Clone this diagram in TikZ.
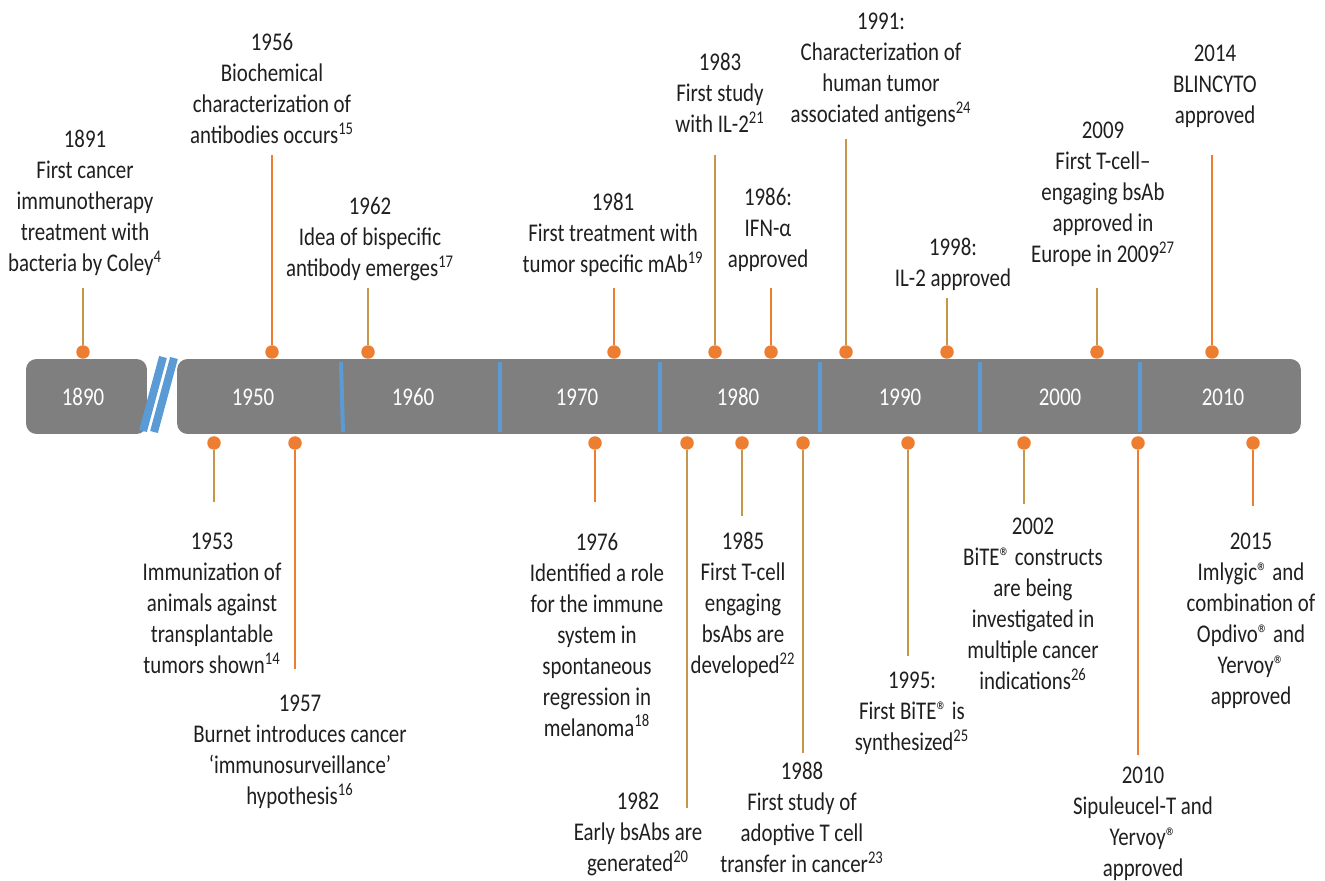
\documentclass[tikz,border=0pt]{standalone}
\usepackage{fontspec}
\setmainfont{Carlito}[FakeStretch=0.82]
\usepackage{xcolor}
\usepackage{tikz}

\definecolor{barGray}{HTML}{7F7F7F}
\definecolor{tickBlue}{HTML}{5B9BD5}
\definecolor{dotOrange}{HTML}{ED7D31}
\definecolor{stemTan}{HTML}{C8964B}
\definecolor{labelGray}{HTML}{1F1F1F}
\newcommand{\eventfont}{\fontsize{14.5}{17.6}\selectfont}

\begin{document}
\begin{tikzpicture}[x=0.02cm, y=-0.02cm,
    bar/.style={rectangle, fill=barGray, rounded corners=6pt, minimum height=1.5cm, inner sep=0pt},
    decade/.style={text=white, font=\eventfont},
    event/.style={align=center, anchor=north, inner sep=0pt, text=labelGray, font=\eventfont},
    dot/.style={circle, fill=dotOrange, inner sep=0pt, minimum size=0.27cm},
    stem/.style={line width=1.1pt, stemTan},
    hotstem/.style={line width=1.1pt, dotOrange},
    divider/.style={line width=0.08cm, tickBlue},
    breakmark/.style={line width=0.16cm, tickBlue}
]
    \useasboundingbox (0,0) rectangle (1325,881);

    % Timeline bar
    \node[bar, minimum width=2.42cm] (bar1890) at (86.5,396.5) {};
    \node[bar, minimum width=22.48cm] (bar) at (739,396.5) {};
    \draw[breakmark] (143,431) -- (163,357);
    \draw[breakmark] (154,432) -- (174,358);

    % Decade dividers
    \draw[divider] (341,362) -- (343,432);
    \draw[divider] (500,362) -- (500,432);
    \draw[divider] (660,362) -- (660,432);
    \draw[divider] (820,362) -- (820,432);
    \draw[divider] (980,362) -- (980,432);
    \draw[divider] (1140,362) -- (1140,432);

    % Decades
    \node[decade] (y1890) at (83,397) {1890};
    \node[decade] (y1950) at (253,397) {1950};
    \node[decade] (y1960) at (413,397) {1960};
    \node[decade] (y1970) at (577,397) {1970};
    \node[decade] (y1980) at (738,397) {1980};
    \node[decade] (y1990) at (900,397) {1990};
    \node[decade] (y2000) at (1060,397) {2000};
    \node[decade] (y2010) at (1223,397) {2010};

    % Events above the bar
    \node[event] (t1891) at (85,130) {1891\\First cancer\\immunotherapy\\treatment with\\bacteria by Coley\textsuperscript{4}};
    \node[event] (t1956) at (272,33) {1956\\Biochemical\\characterization of\\antibodies occurs\textsuperscript{15}};
    \node[event] (t1962) at (370,197) {1962\\Idea of bispecific\\antibody emerges\textsuperscript{17}};
    \node[event] (t1981) at (613,193) {1981\\First treatment with\\tumor specific mAb\textsuperscript{19}};
    \node[event] (t1983) at (720,53) {1983\\First study\\with IL-2\textsuperscript{21}};
    \node[event] (t1986) at (768,188) {1986:\\IFN-α\\approved};
    \node[event] (t1991) at (881,13) {1991:\\Characterization of\\human tumor\\associated antigens\textsuperscript{24}};
    \node[event] (t1998) at (953,238) {1998:\\IL-2 approved};
    \node[event] (t2009) at (1103,122) {2009\\First T-cell–\\engaging bsAb\\approved in\\Europe in 2009\textsuperscript{27}};
    \node[event] (t2014) at (1215,45) {2014\\BLINCYTO\\approved};

    % Events below the bar
    \node[event] (b1953) at (212,533) {1953\\Immunization of\\animals against\\transplantable\\tumors shown\textsuperscript{14}};
    \node[event] (b1957) at (300,695) {1957\\Burnet introduces cancer\\‘immunosurveillance’\\hypothesis\textsuperscript{16}};
    \node[event] (b1976) at (597,533) {1976\\Identified a role\\for the immune\\system in\\spontaneous\\regression in\\melanoma\textsuperscript{18}};
    \node[event] (b1982) at (638,792) {1982\\Early bsAbs are\\generated\textsuperscript{20}};
    \node[event] (b1985) at (743,532) {1985\\First T-cell\\engaging\\bsAbs are\\developed\textsuperscript{22}};
    \node[event] (b1988) at (802,762) {1988\\First study of\\adoptive T cell\\transfer in cancer\textsuperscript{23}};
    \node[event] (b1995) at (912,672) {1995:\\First BiTE® is\\synthesized\textsuperscript{25}};
    \node[event] (b2002) at (1033,518) {2002\\BiTE® constructs\\are being\\investigated in\\multiple cancer\\indications\textsuperscript{26}};
    \node[event] (b2010) at (1143,767) {2010\\Sipuleucel-T and\\Yervoy®\\approved};
    \node[event] (b2015) at (1251,533) {2015\\Imlygic® and\\combination of\\Opdivo® and\\Yervoy®\\approved};

    % Dots on the bar
    \node[dot] (d1891) at (83,352) {};
    \node[dot] (d1956) at (272,352) {};
    \node[dot] (d1962) at (368,352) {};
    \node[dot] (d1981) at (614,352) {};
    \node[dot] (d1983) at (715,352) {};
    \node[dot] (d1986) at (771,352) {};
    \node[dot] (d1991) at (846,352) {};
    \node[dot] (d1998) at (947,352) {};
    \node[dot] (d2009) at (1097,352) {};
    \node[dot] (d2014) at (1212,352) {};
    \node[dot] (d1953) at (214,443) {};
    \node[dot] (d1957) at (295,443) {};
    \node[dot] (d1976) at (595,443) {};
    \node[dot] (d1982) at (687,443) {};
    \node[dot] (d1985) at (742,443) {};
    \node[dot] (d1988) at (803,443) {};
    \node[dot] (d1995) at (908,443) {};
    \node[dot] (d2002) at (1024,443) {};
    \node[dot] (d2010) at (1138,443) {};
    \node[dot] (d2015) at (1253,443) {};

    % Stem ends
    \coordinate (s1891) at (83,288);
    \coordinate (s1956) at (272,155);
    \coordinate (s1962) at (368,288);
    \coordinate (s1981) at (614,288);
    \coordinate (s1983) at (715,155);
    \coordinate (s1986) at (771,288);
    \coordinate (s1991) at (846,139);
    \coordinate (s1998) at (947,298);
    \coordinate (s2009) at (1097,288);
    \coordinate (s2014) at (1212,155);
    \coordinate (s1953) at (214,502);
    \coordinate (s1957) at (295,669);
    \coordinate (s1976) at (595,502);
    \coordinate (s1982) at (687,808);
    \coordinate (s1985) at (742,516);
    \coordinate (s1988) at (803,753);
    \coordinate (s1995) at (908,656);
    \coordinate (s2002) at (1024,504);
    \coordinate (s2010) at (1138,755);
    \coordinate (s2015) at (1253,506);

    % Stems
    \draw[stem] (d1891) -- (s1891);
    \draw[hotstem] (d1956) -- (s1956);
    \draw[stem] (d1962) -- (s1962);
    \draw[hotstem] (d1981) -- (s1981);
    \draw[stem] (d1983) -- (s1983);
    \draw[hotstem] (d1986) -- (s1986);
    \draw[stem] (d1991) -- (s1991);
    \draw[stem] (d1998) -- (s1998);
    \draw[stem] (d2009) -- (s2009);
    \draw[hotstem] (d2014) -- (s2014);
    \draw[stem] (d1953) -- (s1953);
    \draw[hotstem] (d1957) -- (s1957);
    \draw[hotstem] (d1976) -- (s1976);
    \draw[stem] (d1982) -- (s1982);
    \draw[stem] (d1985) -- (s1985);
    \draw[stem] (d1988) -- (s1988);
    \draw[stem] (d1995) -- (s1995);
    \draw[stem] (d2002) -- (s2002);
    \draw[hotstem] (d2010) -- (s2010);
    \draw[hotstem] (d2015) -- (s2015);
\end{tikzpicture}
\end{document}
